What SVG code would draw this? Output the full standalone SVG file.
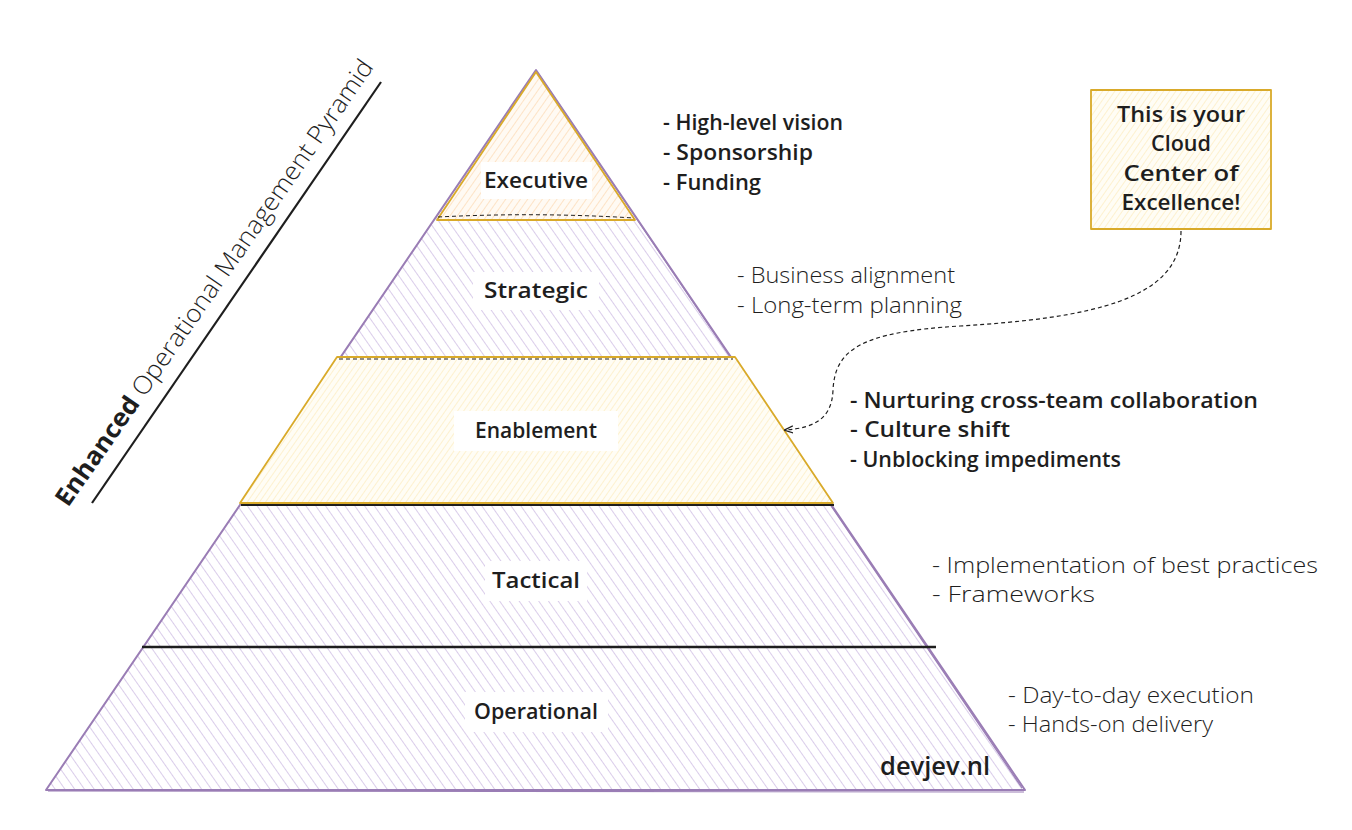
<svg xmlns="http://www.w3.org/2000/svg" width="1352" height="830" viewBox="0 0 1352 830">
<style>
  .lbl{font-family:"Open Sans","Liberation Sans",sans-serif;font-size:21px;font-weight:600;fill:#1e1e1e;text-anchor:middle}
  .bold{font-family:"Open Sans","Liberation Sans",sans-serif;font-size:22px;font-weight:600;fill:#1e1e1e}
  .light{font-family:"Open Sans","Liberation Sans",sans-serif;font-size:22px;font-weight:300;fill:#1e1e1e}
  .lblbg{fill:#ffffff}
  .purple{stroke:#9a7db5;stroke-width:2;fill:none;stroke-linejoin:round}
  .gold{stroke:#d9aa2a;stroke-width:1.8;fill:none;stroke-linejoin:round}
  .conn{stroke:#1e1e1e;stroke-width:1.2;fill:none;stroke-dasharray:4 3}
</style>
<defs>
  <pattern id="hPurple" width="8" height="8" patternUnits="userSpaceOnUse" patternTransform="rotate(-35)">
    <line x1="0" y1="0" x2="0" y2="8" stroke="#c6b1de" stroke-width="1.3"/>
  </pattern>
  <pattern id="hOrange" width="6" height="6" patternUnits="userSpaceOnUse" patternTransform="rotate(35)">
    <line x1="0" y1="0" x2="0" y2="6" stroke="#fbd3a8" stroke-width="1.2"/>
  </pattern>
  <pattern id="hYellow" width="5" height="5" patternUnits="userSpaceOnUse" patternTransform="rotate(35)">
    <line x1="0" y1="0" x2="0" y2="5" stroke="#fbe8b0" stroke-width="1.1"/>
  </pattern>
  <marker id="arr" viewBox="0 0 10 10" refX="9" refY="5" markerWidth="9" markerHeight="9" orient="auto-start-reverse" markerUnits="userSpaceOnUse">
    <path d="M0,1 L10,5 L0,9" fill="none" stroke="#1e1e1e" stroke-width="1.4"/>
  </marker>
</defs>
<rect width="1352" height="830" fill="#ffffff"/>

<g id="title">
  <line x1="92" y1="503" x2="381" y2="82" stroke="#1e1e1e" stroke-width="2.2"/>
  <text transform="translate(68,508) rotate(-55.2)" font-family="'Open Sans','Liberation Sans',sans-serif" font-size="25" fill="#1e1e1e" textLength="537" lengthAdjust="spacingAndGlyphs"><tspan font-weight="700">Enhanced</tspan><tspan font-weight="300"> Operational Management Pyramid</tspan></text>
</g>

<g id="pyramid">
  <path d="M536,70 L1025,790 L46,790 Z" fill="url(#hPurple)"/>
  <path class="purple" d="M536,70 L1025,790 L46,790 Z"/>
  <path d="M538,73 L1022,788 M48,791 L1024,792" stroke="#9a7db5" stroke-width="1.2" fill="none"/>
</g>

<g id="executive">
  <path d="M536,72 L635,220 L437,220 Z" fill="#fffaf3"/>
  <path d="M536,72 L635,220 L437,220 Z" fill="url(#hOrange)"/>
  <path class="gold" d="M536,72 L635,220 L437,220 Z"/>
  <path d="M438,217 Q536,212 634,218" stroke="#1e1e1e" stroke-width="1" stroke-dasharray="4 3" fill="none"/>
  <rect class="lblbg" x="481" y="162" width="111" height="37"/>
  <text class="lbl" x="536" y="188" textLength="104" lengthAdjust="spacingAndGlyphs">Executive</text>
</g>

<g id="strategic">
  <rect class="lblbg" x="473" y="272" width="126" height="38"/>
  <text class="lbl" x="536" y="298" font-size="20" textLength="104" lengthAdjust="spacingAndGlyphs">Strategic</text>
</g>

<g id="enablement">
  <path d="M337,357 L735,357 L833,503 L240,503 Z" fill="#fffdf5"/>
  <path d="M337,357 L735,357 L833,503 L240,503 Z" fill="url(#hYellow)"/>
  <path class="gold" d="M337,357 L735,357 L833,503 L240,503 Z"/>
  <path d="M339,359 L733,359" stroke="#1e1e1e" stroke-width="1" stroke-dasharray="4 3" fill="none"/>
  <path d="M241,505 L834,505" stroke="#1e1e1e" stroke-width="1.8" fill="none"/>
  <rect class="lblbg" x="454" y="411" width="164" height="40"/>
  <text class="lbl" x="536" y="438" textLength="122" lengthAdjust="spacingAndGlyphs">Enablement</text>
</g>

<g id="tactical">
  <path d="M142,647 L936,647" stroke="#1e1e1e" stroke-width="2.6" fill="none"/>
  <rect class="lblbg" x="485" y="561" width="102" height="40"/>
  <text class="lbl" x="536" y="588" font-size="20" textLength="88" lengthAdjust="spacingAndGlyphs">Tactical</text>
</g>

<g id="operational">
  <rect class="lblbg" x="465" y="692" width="143" height="40"/>
  <text class="lbl" x="536" y="719" textLength="124" lengthAdjust="spacingAndGlyphs">Operational</text>
</g>

<g id="notes">
  <text class="bold" x="663" y="130" textLength="180" lengthAdjust="spacingAndGlyphs">- High-level vision</text>
  <text class="bold" x="663" y="160" textLength="150" lengthAdjust="spacingAndGlyphs">- Sponsorship</text>
  <text class="bold" x="663" y="190" textLength="98" lengthAdjust="spacingAndGlyphs">- Funding</text>
  <text class="light" x="737" y="283" textLength="218" lengthAdjust="spacingAndGlyphs">- Business alignment</text>
  <text class="light" x="737" y="313" textLength="225" lengthAdjust="spacingAndGlyphs">- Long-term planning</text>
  <text class="bold" x="850" y="408" textLength="408" lengthAdjust="spacingAndGlyphs">- Nurturing cross-team collaboration</text>
  <text class="bold" x="850" y="437" textLength="160" lengthAdjust="spacingAndGlyphs">- Culture shift</text>
  <text class="bold" x="850" y="467" font-size="23" textLength="271" lengthAdjust="spacingAndGlyphs">- Unblocking impediments</text>
  <text class="light" x="932" y="573" textLength="386" lengthAdjust="spacingAndGlyphs">- Implementation of best practices</text>
  <text class="light" x="932" y="602" textLength="163" lengthAdjust="spacingAndGlyphs">- Frameworks</text>
  <text class="light" x="1008" y="703" textLength="246" lengthAdjust="spacingAndGlyphs">- Day-to-day execution</text>
  <text class="light" x="1008" y="732" textLength="205" lengthAdjust="spacingAndGlyphs">- Hands-on delivery</text>
  <text x="880" y="775" font-family="'Open Sans','Liberation Sans',sans-serif" font-size="26" font-weight="600" fill="#1e1e1e" textLength="110" lengthAdjust="spacingAndGlyphs">devjev.nl</text>
</g>

<g id="callout">
  <rect x="1091" y="90" width="180" height="139" fill="#fffdf5"/>
  <rect x="1091" y="90" width="180" height="139" fill="url(#hYellow)"/>
  <rect class="gold" x="1091" y="90" width="180" height="139"/>
  <text class="lbl" x="1181" y="122" textLength="128" lengthAdjust="spacingAndGlyphs">This is your</text>
  <text class="lbl" x="1181" y="151" textLength="60" lengthAdjust="spacingAndGlyphs">Cloud</text>
  <text class="lbl" x="1181" y="181" textLength="115" lengthAdjust="spacingAndGlyphs">Center of</text>
  <text class="lbl" x="1181" y="210" textLength="119" lengthAdjust="spacingAndGlyphs">Excellence!</text>
</g>

<g id="connectors">
  <path class="conn" d="M1181,231 C1181,300 1090,318 960,326 C860,332 835,350 833,390 C832,418 815,428 785,430" marker-end="url(#arr)"/>
</g>
</svg>
